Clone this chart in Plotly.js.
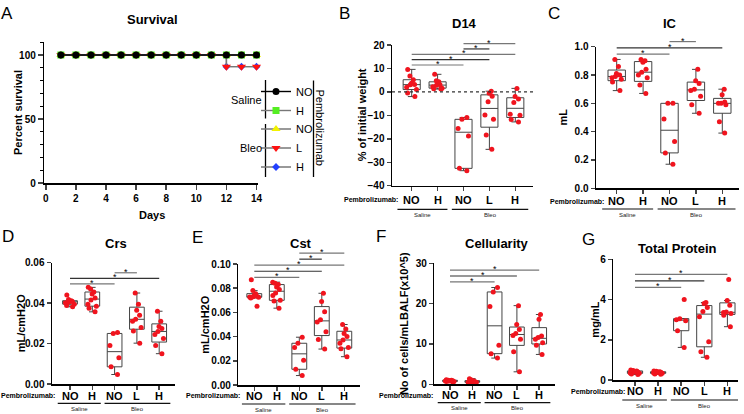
<!DOCTYPE html>
<html>
<head>
<meta charset="utf-8">
<script src="https://cdn.plot.ly/plotly-3.0.1.min.js"></script>
<style>
  body { margin: 0; background: #fff; }
  #chart { width: 744px; height: 414px; }
</style>
</head>
<body>
<div id="chart"></div>
<script>
// ---- Panel A: survival (%) per day ----
const days = [1, 2, 3, 4, 5, 6, 7, 8, 9, 10, 11, 12, 13, 14];
const survSalineNO = [100, 100, 100, 100, 100, 100, 100, 100, 100, 100, 100, 100, 100, 100];
const survSalineH = [100, 100, 100, 100, 100, 100, 100, 100, 100, 100, 100, 100, 100, 100];
const survBleoNO = [100, 100, 100, 100, 100, 100, 100, 100, 100, 100, 100, 100, 100, 100];
const survBleoL = [100, 100, 100, 100, 100, 100, 100, 100, 100, 100, 100, 90.9, 90.9, 90.9];
const survBleoH = [100, 100, 100, 100, 100, 100, 100, 100, 100, 100, 100, 90.9, 90.9, 90.9];

// ---- Panels B-G: groups are Saline NO, Saline H, Bleo NO, Bleo L, Bleo H ----
const groupTicks = ['NO', 'H', 'NO', 'L', 'H'];

const weightD14 = [
  [9.6, 6.8, 5.2, 3.7, 3.2, 3.0, 2.0, 1.0, -0.5, -2.0],
  [7.5, 4.8, 4.3, 3.6, 3.0, 2.8, 2.2, 1.6, 1.3, 1.2],
  [-10.9, -11.7, -15.6, -18.8, -32.6, -33.6],
  [0.3, -0.6, -1.9, -4.2, -9.9, -11.7, -18.4, -24.5],
  [1.5, -2.0, -3.0, -4.5, -9.5, -10.0, -11.8, -12.8]
];
const icValues = [
  [0.91, 0.86, 0.81, 0.80, 0.79, 0.78, 0.77, 0.75, 0.69],
  [0.91, 0.90, 0.89, 0.84, 0.82, 0.80, 0.78, 0.73, 0.67],
  [0.60, 0.60, 0.49, 0.33, 0.25, 0.17],
  [0.84, 0.76, 0.74, 0.70, 0.69, 0.65, 0.59, 0.53],
  [0.70, 0.66, 0.61, 0.60, 0.60, 0.59, 0.47, 0.39]
];
const crsValues = [
  [0.0440, 0.0418, 0.0412, 0.0410, 0.0408, 0.0405, 0.0402, 0.0395, 0.0388, 0.0382],
  [0.0478, 0.0470, 0.0455, 0.0445, 0.0425, 0.0415, 0.0395, 0.0385, 0.0375, 0.0357],
  [0.0255, 0.0250, 0.0190, 0.0130, 0.0085, 0.0047],
  [0.0450, 0.0395, 0.0365, 0.0340, 0.0320, 0.0310, 0.0280, 0.0262, 0.0202],
  [0.0360, 0.0310, 0.0285, 0.0275, 0.0260, 0.0245, 0.0225, 0.0190, 0.0150]
];
const cstValues = [
  [0.087, 0.078, 0.0755, 0.074, 0.0735, 0.073, 0.0728, 0.0725, 0.072, 0.065],
  [0.085, 0.084, 0.083, 0.081, 0.079, 0.076, 0.074, 0.070, 0.0695, 0.0635],
  [0.0395, 0.0345, 0.031, 0.0205, 0.013, 0.0078],
  [0.0758, 0.0690, 0.0606, 0.054, 0.052, 0.044, 0.0377, 0.0297],
  [0.050, 0.0463, 0.0425, 0.040, 0.0372, 0.0345, 0.031, 0.030, 0.0234]
];
const cellValues = [
  [1.1, 1.0, 1.0, 0.9, 0.9, 0.8, 0.8, 0.7, 0.7, 0.6],
  [1.4, 1.1, 0.9, 0.8, 0.7, 0.6, 0.5, 0.5, 0.4, 0.3],
  [24.0, 22.9, 19.3, 9.7, 7.6, 6.5],
  [19.5, 14.8, 13.6, 12.6, 12.1, 11.2, 8.1, 3.1],
  [17.3, 16.1, 12.0, 11.6, 11.2, 10.3, 9.7, 7.4]
];
const proteinValues = [
  [0.50, 0.47, 0.45, 0.42, 0.40, 0.38, 0.35, 0.33, 0.30, 0.27],
  [0.45, 0.43, 0.41, 0.40, 0.38, 0.37, 0.35, 0.33, 0.30, 0.28],
  [4.0, 3.05, 3.0, 2.95, 2.45, 1.62],
  [3.85, 3.8, 3.6, 3.4, 3.15, 1.9, 1.4, 1.13],
  [5.0, 3.95, 3.72, 3.38, 3.35, 3.3, 3.22, 2.65]
];

// significant comparisons (group index pairs), bottom bracket first
const sigD14 = [[0, 2], [0, 3], [0, 4], [2, 3], [2, 4]];
const sigIC = [[0, 2], [0, 4], [2, 3]];
const sigCrs = [[0, 2], [0, 4], [2, 3]];
const sigCst = [[0, 2], [0, 3], [0, 4], [2, 3], [2, 4]];
const sigCell = [[0, 2], [0, 3], [0, 4]];
const sigProtein = [[0, 2], [0, 3], [0, 4]];

// ---- layout helpers (pixel -> paper) ----
const W = 744, H = 414;
const px = x => x / W;
const py = y => 1 - y / H;
const FONT = 'Arial, "Liberation Sans", sans-serif';
const RED = '#f0141e';

const traces = [];
const shapes = [];
const annotations = [];
const legendBase = {
  xanchor: 'left', yanchor: 'top', bgcolor: 'rgba(0,0,0,0)', borderwidth: 0,
  font: { size: 11, family: FONT }, traceorder: 'reversed',
  itemclick: false, itemdoubleclick: false
};
const layout = {
  width: W, height: H,
  margin: { l: 0, r: 0, t: 0, b: 0 },
  paper_bgcolor: '#fff', plot_bgcolor: 'rgba(0,0,0,0)',
  font: { family: FONT, color: '#000', size: 10 },
  boxmode: 'overlay',
  hovermode: false,
  showlegend: true,
  legend: Object.assign({ x: px(256), y: py(77) }, legendBase),
  legend2: Object.assign({ x: px(256), y: py(114.5) }, legendBase),
  shapes: shapes,
  annotations: annotations
};

function text(t, x, y, opts) {
  annotations.push(Object.assign({
    text: t, x: px(x), y: py(y), xref: 'paper', yref: 'paper',
    showarrow: false, xanchor: 'center', yanchor: 'middle',
    font: { size: 11, family: FONT, color: '#000' }
  }, opts || {}));
}
function line(x0, y0, x1, y1, color, width) {
  shapes.push({ type: 'line', xref: 'paper', yref: 'paper',
    x0: px(x0), y0: py(y0), x1: px(x1), y1: py(y1),
    line: { color: color || '#000', width: width || 1.3 } });
}

// ---- Panel A ----
const survSeries = [
  // drawn bottom to top so black ends up on top; legends reversed
  { name: 'H', y: survBleoH, color: '#2340ff', symbol: 'diamond', size: 6, legend: 'legend2' },
  { name: 'L', y: survBleoL, color: '#ff1010', symbol: 'triangle-down', size: 8, legend: 'legend2' },
  { name: 'NO', y: survBleoNO, color: '#f2f200', symbol: 'triangle-up', size: 8, legend: 'legend2' },
  { name: 'H', y: survSalineH, color: '#55ee22', symbol: 'square', size: 7, legend: 'legend' },
  { name: 'NO', y: survSalineNO, color: '#000000', symbol: 'circle', size: 7, legend: 'legend' }
];
survSeries.forEach((s, i) => {
  traces.push({
    type: 'scatter', mode: 'lines+markers', x: days, y: s.y,
    name: s.name, legend: s.legend, xaxis: 'x', yaxis: 'y', cliponaxis: false,
    line: { shape: 'hv', color: i === 4 ? '#000' : '#777', width: 1.4 },
    marker: { symbol: s.symbol, color: s.color, size: s.size }
  });
});
layout.xaxis = {
  domain: [px(44.3), px(258)], range: [-0.1, 14.1], anchor: 'y',
  tick0: 0, dtick: 2, ticks: 'outside', ticklen: 5, tickwidth: 1.5,
  showline: true, linewidth: 1.5, linecolor: '#000', showgrid: false, zeroline: false,
  tickfont: { size: 10, weight: 'bold', family: FONT }, fixedrange: true
};
layout.yaxis = {
  domain: [py(183), py(42.2)], range: [0, 110], anchor: 'x',
  tickvals: [0, 50, 100], ticks: 'outside', ticklen: 5, tickwidth: 1.5,
  minor: { dtick: 10, ticks: 'outside', ticklen: 3, tickwidth: 1.2, tickcolor: '#000' },
  showline: true, linewidth: 1.5, linecolor: '#000', showgrid: false, zeroline: false,
  tickfont: { size: 10, weight: 'bold', family: FONT }, fixedrange: true
};
text('A', 7, 13, { font: { size: 17, family: FONT } });
text('Survival', 152, 20, { font: { size: 13, weight: 'bold', family: FONT } });
text('Days', 152, 215, { font: { size: 11, weight: 'bold', family: FONT } });
text('Percent survival', 18, 113, { textangle: -90, font: { size: 11, weight: 'bold', family: FONT } });
// legend grouping
text('Saline', 264, 100, { xanchor: 'right' });
text('Bleo', 264, 148, { xanchor: 'right' });
line(265.5, 80, 265.5, 118.5);
line(265.5, 124, 265.5, 177);
line(313.5, 80.5, 313.5, 177);
text('Pembrolizumab', 319.5, 127, { textangle: 90 });

// ---- Panels B-G ----
const panels = [
  { n: 2, letter: 'B', title: 'D14', ytitle: '% of initial weight', data: weightD14, sig: sigD14,
    yr: [-40, 20], dtick: 10, fmt: '', left: 392, right: 533, c0: 411.7, step: 25.9,
    top: 45, bot: 185.7, titleY: 23, letterXY: [344, 13], ytitleX: 362, labOff: 12,
    tickY: 200, ulY: 209.3, sigBase: 0.858, sigGap: 0.038, zeroLine: true },
  { n: 3, letter: 'C', title: 'IC', ytitle: 'mL', data: icValues, sig: sigIC,
    yr: [0, 1.0], dtick: 0.2, fmt: '.1f', left: 596, right: 739, c0: 616.7, step: 26.4,
    top: 46.7, bot: 188.3, titleY: 23, letterXY: [554, 13], ytitleX: 563, labOff: 10.7,
    tickY: 201.2, ulY: 209, sigBase: 0.948, sigGap: 0.044 },
  { n: 4, letter: 'D', title: 'Crs', ytitle: 'mL/cmH2O', data: crsValues, sig: sigCrs,
    yr: [0, 0.06], dtick: 0.02, fmt: '.2f', left: 52, right: 175, c0: 70, step: 22.3,
    top: 262.7, bot: 384, titleY: 243, letterXY: [8, 236], ytitleX: 21, labOff: 12.7,
    tickY: 395.5, ulY: 403.3, sigBase: 0.825, sigGap: 0.046 },
  { n: 5, letter: 'E', title: 'Cst', ytitle: 'mL/cmH2O', data: cstValues, sig: sigCst,
    yr: [0, 0.10], dtick: 0.02, fmt: '.2f', left: 238.3, right: 360, c0: 254.3, step: 22.5,
    top: 264, bot: 385, titleY: 243, letterXY: [197, 237], ytitleX: 204.3, labOff: 12,
    tickY: 395.5, ulY: 404, sigBase: 0.89, sigGap: 0.05 },
  { n: 6, letter: 'F', title: 'Cellularity', ytitle: 'No of cells/mLBALF(x10^5)', data: cellValues, sig: sigCell,
    yr: [0, 30], dtick: 10, fmt: '', left: 434.3, right: 555, c0: 450, step: 22.3,
    top: 263.3, bot: 384.3, titleY: 243, letterXY: [381, 236], ytitleX: 403.3, labOff: 15,
    tickY: 395, ulY: 402.7, sigBase: 0.847, sigGap: 0.048 },
  { n: 7, letter: 'G', title: 'Total Protein', ytitle: 'mg/mL', data: proteinValues, sig: sigProtein,
    yr: [0, 6], dtick: 2, fmt: '', left: 613.3, right: 738, c0: 635, step: 23.1,
    top: 259.3, bot: 380, titleY: 248, letterXY: [588, 239], ytitleX: 595, labOff: 8.3,
    tickY: 391, ulY: 400, sigBase: 0.767, sigGap: 0.054 }
];

panels.forEach(p => {
  const xa = 'x' + p.n, ya = 'y' + p.n;
  const xr = [(p.left - p.c0) / p.step, (p.right - p.c0) / p.step];

  p.data.forEach((vals, i) => {
    traces.push({
      type: 'box', x: vals.map(() => i), y: vals, xaxis: xa, yaxis: ya,
      boxpoints: 'all', jitter: 0.75, pointpos: 0, width: 0.66,
      quartilemethod: 'exclusive', whiskerwidth: 0.45,
      fillcolor: 'rgba(255,255,255,0)', line: { color: '#444', width: 1 },
      marker: { color: RED, size: 5 }, showlegend: false
    });
  });

  layout['xaxis' + p.n] = {
    domain: [px(p.left), px(p.right)], range: xr, anchor: ya,
    tickvals: [0, 1, 2, 3, 4], showticklabels: false,
    ticks: 'outside', ticklen: 4, tickwidth: 1.5,
    showline: true, linewidth: 1.5, linecolor: '#000', showgrid: false, zeroline: false,
    fixedrange: true
  };
  layout['yaxis' + p.n] = {
    domain: [py(p.bot), py(p.top)], range: p.yr, anchor: xa,
    dtick: p.dtick, tick0: 0, tickformat: p.fmt,
    ticks: 'outside', ticklen: 4, tickwidth: 1.5,
    showline: true, linewidth: 1.5, linecolor: '#000', showgrid: false, zeroline: false,
    tickfont: { size: 10, weight: 'bold', family: FONT }, fixedrange: true
  };

  // category labels, set on the label row next to "Pembrolizumab:"
  groupTicks.forEach((t, i) => {
    annotations.push({ text: t, xref: xa, yref: 'paper', x: i, y: py(p.tickY),
      showarrow: false, yanchor: 'middle',
      font: { size: 11, weight: 'bold', family: FONT, color: '#000' } });
  });

  if (p.zeroLine) {
    shapes.push({ type: 'line', xref: xa + ' domain', yref: ya, x0: 0, x1: 1, y0: 0, y1: 0,
      line: { color: '#333', width: 1.3, dash: 'dot' } });
  }

  // significance brackets
  p.sig.forEach((pair, k) => {
    const yy = p.sigBase + k * p.sigGap;
    shapes.push({ type: 'line', xref: xa, yref: ya + ' domain',
      x0: pair[0], x1: pair[1], y0: yy, y1: yy,
      line: { color: k % 2 ? '#333' : '#777', width: 1.2 } });
    annotations.push({ text: '*', xref: xa, yref: ya + ' domain',
      x: (pair[0] + pair[1]) / 2, y: yy, yanchor: 'middle', yshift: 1,
      showarrow: false, font: { size: 9, family: FONT, color: '#000' } });
  });

  // group underlines and labels
  [['Saline', -0.55, 1.38], ['Bleo', 1.55, 4.5]].forEach(g => {
    shapes.push({ type: 'line', xref: xa, yref: 'paper',
      x0: g[1], x1: g[2], y0: py(p.ulY), y1: py(p.ulY),
      line: { color: '#111', width: 1.2 } });
    annotations.push({ text: g[0], xref: xa, yref: 'paper',
      x: (g[1] + g[2]) / 2, y: py(p.ulY + 5.5), showarrow: false,
      yanchor: 'middle', font: { size: 6, family: FONT, color: '#222' } });
  });

  text('Pembrolizumab:', p.c0 - p.labOff, p.tickY,
    { xanchor: 'right', font: { size: 7, weight: 'bold', family: FONT } });
  text(p.letter, p.letterXY[0], p.letterXY[1], { font: { size: 17, family: FONT } });
  text(p.title, (p.left + p.right) / 2 + 2, p.titleY,
    { font: { size: 13, weight: 'bold', family: FONT } });
  text(p.ytitle, p.ytitleX, (p.top + p.bot) / 2, { textangle: -90,
    font: { size: 11, weight: 'bold', family: FONT } });
});

Plotly.newPlot('chart', traces, layout, { displayModeBar: false, staticPlot: true });
</script>
</body>
</html>
